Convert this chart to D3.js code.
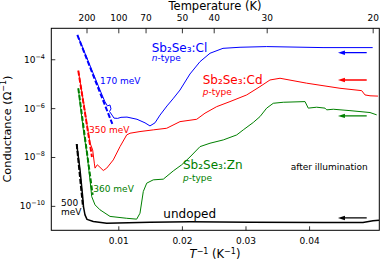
<!DOCTYPE html>
<html>
<head>
<meta charset="utf-8">
<script src="https://cdn.jsdelivr.net/npm/d3@7"></script>
<style>
  body { margin: 0; background: #fff; }
  text { font-family: "DejaVu Sans", sans-serif; }
</style>
</head>
<body>
<svg id="chart" width="381" height="262"></svg>
<script>
// conductance vs inverse temperature, four samples

// Sb2Se3:Cl (n-type)
var clInvT = [0.00362, 0.00461, 0.00586, 0.00712, 0.00791, 0.00830, 0.00869, 0.00885, 0.00862, 0.00901, 0.00932, 0.00990, 0.01042, 0.01137, 0.01294, 0.01420, 0.01498, 0.01577, 0.01656, 0.01766, 0.01860, 0.01970, 0.02127, 0.02285, 0.02442, 0.02646, 0.02914, 0.03333, 0.04219, 0.05000];
var clG = [9.4e-4, 2.19e-4, 3.5e-5, 5.5e-6, 1.8e-6, 1.23e-6, 1.35e-6, 9.3e-7, 7.3e-7, 5.2e-7, 3.9e-7, 3.8e-7, 4.2e-7, 4.3e-7, 3.5e-7, 2.5e-7, 1.87e-7, 2.5e-7, 5.2e-7, 1.23e-6, 2.4e-6, 5.5e-6, 2.5e-5, 8.0e-5, 1.76e-4, 2.8e-4, 3.1e-4, 3.3e-4, 3.0e-4, 3.0e-4];

// Sb2Se3:Cd (p-type)
var cdInvT = [0.00371, 0.00461, 0.00513, 0.00555, 0.00597, 0.00623, 0.00634, 0.00670, 0.00712, 0.00764, 0.00818, 0.00921, 0.01027, 0.01132, 0.01184, 0.01341, 0.01550, 0.01761, 0.01970, 0.02233, 0.02363, 0.02547, 0.02756, 0.03019, 0.03228, 0.03385, 0.03543, 0.03962, 0.04486, 0.04827, 0.04879, 0.04958, 0.05083];
var cdG = [3.4e-5, 1.35e-6, 1.75e-7, 3.8e-8, 1.95e-8, 5.6e-9, 3.5e-9, 4.8e-9, 3.8e-9, 2.8e-9, 3.5e-9, 7.6e-9, 2.66e-8, 8.0e-8, 9.4e-8, 1.1e-7, 1.29e-7, 1.5e-7, 2.8e-7, 3.5e-7, 6.2e-7, 1.15e-6, 1.85e-6, 3.47e-6, 7.6e-6, 1.42e-5, 1.67e-5, 1.05e-5, 6.5e-6, 5.2e-6, 3.47e-6, 3.2e-6, 3.1e-6];

// Sb2Se3:Zn (p-type)
var znInvT = [0.00371, 0.00450, 0.00513, 0.00555, 0.00582, 0.00634, 0.00712, 0.00870, 0.01132, 0.01289, 0.01341, 0.01393, 0.01447, 0.01550, 0.01708, 0.01865, 0.01997, 0.02127, 0.02285, 0.02442, 0.02651, 0.02862, 0.02965, 0.03123, 0.03228, 0.03333, 0.03437, 0.03594, 0.03936, 0.03987, 0.04119, 0.04250, 0.04277, 0.04381, 0.04643, 0.04958, 0.05063];
var znG = [6.5e-6, 1.29e-7, 1.05e-8, 1.16e-9, 2.4e-10, 1.1e-10, 6.9e-11, 3.7e-11, 3.1e-11, 2.86e-11, 5.0e-11, 3.85e-10, 8.5e-10, 1.16e-9, 1.24e-9, 2.7e-9, 4.8e-9, 1.0e-8, 2.66e-8, 3.66e-8, 5.0e-8, 8.0e-8, 1.29e-7, 2.6e-7, 4.5e-7, 1.0e-6, 1.58e-6, 1.74e-6, 1.85e-6, 1.0e-6, 1.09e-6, 1.0e-6, 8.5e-7, 9.0e-7, 7.9e-7, 6.6e-7, 5.3e-7];

// undoped
var unInvT = [0.00346, 0.00398, 0.00437, 0.00453, 0.00476, 0.00508, 0.00607, 0.00818, 0.01498, 0.02127, 0.03071, 0.04219, 0.04847, 0.05005, 0.05099];
var unG = [3.4e-8, 2.96e-9, 2.8e-10, 9.1e-11, 4.3e-11, 2.8e-11, 2.28e-11, 1.96e-11, 2.13e-11, 2.22e-11, 2.13e-11, 2.1e-11, 2.1e-11, 2.45e-11, 2.56e-11];

// activation fits (dashed), end points
var clFitInvT = [0.00356, 0.00906], clFitG = [9.9e-4, 2.26e-7];
var cdFitInvT = [0.00371, 0.00586], cdFitG = [3.4e-5, 1.0e-8];
var znFitInvT = [0.00371, 0.00597], znFitG = [6.5e-6, 2.8e-10];
var unFitInvT = [0.00346, 0.00445], unFitG = [3.4e-8, 9.1e-11];

// after-illumination arrows: level, from/to
var arrowG = [1.86e-4, 1.42e-5, 4.8e-7, 3.2e-11];
var arrowFrom = 0.04906, arrowTo = 0.04454;

var xTicks = [0.01, 0.02, 0.03, 0.04];
var tempTicks = [200, 100, 70, 50, 40, 30, 20];
var yTicks = [1e-4, 1e-6, 1e-8, 1e-10];

var colors = ['#0000ff', '#ff0000', '#008000', '#000000'];

var svg = d3.select('#chart');
var m = {l: 51.3, t: 28.3, r: 379.3, b: 230.3};

var x = d3.scaleLinear().domain([-0.000535, 0.05104]).range([m.l, m.r]);
var y = d3.scaleLog().domain([1.0e-11, 1.85e-3]).range([m.b, m.t]);

svg.append('defs').append('clipPath').attr('id', 'clip')
  .append('rect').attr('x', m.l).attr('y', m.t).attr('width', m.r - m.l).attr('height', m.b - m.t);

// axes
var axBottom = svg.append('g').attr('transform', 'translate(0,' + m.b + ')')
  .call(d3.axisBottom(x).tickValues(xTicks).tickSize(-4).tickPadding(7.3).tickFormat(d3.format('.2')));
var axTop = svg.append('g').attr('transform', 'translate(0,' + m.t + ')')
  .call(d3.axisTop(x).tickValues(tempTicks.map(function(t){ return 1 / t; })).tickSize(-5).tickPadding(7.3)
    .tickFormat(function(d){ return Math.round(1 / d); }));
var axLeft = svg.append('g').attr('transform', 'translate(' + m.l + ',0)')
  .call(d3.axisLeft(y).tickValues(yTicks).tickSize(-4).tickPadding(6.3));

[axBottom, axTop, axLeft].forEach(function(g){
  g.select('.domain').remove();
  g.selectAll('.tick line').attr('stroke', '#000').attr('stroke-width', 0.8);
  g.selectAll('.tick text').attr('fill', '#000').attr('font-size', '9px').attr('font-family', '"DejaVu Sans", sans-serif');
});

axLeft.selectAll('.tick text').each(function(d){
  var t = d3.select(this);
  t.text('');
  t.append('tspan').text('10');
  t.append('tspan').attr('dy', -4).attr('font-size', '6.5px').text('\u2212' + Math.round(-Math.log10(d)));
});

// frame
svg.append('rect').attr('x', m.l).attr('y', m.t).attr('width', m.r - m.l).attr('height', m.b - m.t)
  .attr('fill', 'none').attr('stroke', '#000').attr('stroke-width', 1);

// axis titles
svg.append('text').attr('x', 215).attr('y', 9.5).attr('text-anchor', 'middle')
  .attr('font-size', '11.5px').text('Temperature (K)');

var xt = svg.append('text').attr('x', 215).attr('y', 258).attr('text-anchor', 'middle').attr('font-size', '11.5px');
xt.append('tspan').attr('font-style', 'italic').text('T');
xt.append('tspan').attr('dy', -4.5).attr('font-size', '8px').text('\u22121');
xt.append('tspan').attr('dy', 4.5).text(' (K');
xt.append('tspan').attr('dy', -4.5).attr('font-size', '8px').text('\u22121');
xt.append('tspan').attr('dy', 4.5).text(')');

var yt = svg.append('text').attr('transform', 'translate(10.5,129) rotate(-90)').attr('text-anchor', 'middle').attr('font-size', '11.3px');
yt.append('tspan').text('Conductance (\u03a9');
yt.append('tspan').attr('dy', -4.5).attr('font-size', '8px').text('\u22121');
yt.append('tspan').attr('dy', 4.5).text(')');

// curves
var plot = svg.append('g').attr('clip-path', 'url(#clip)');
var line = d3.line().x(function(d){ return x(d[0]); }).y(function(d){ return y(d[1]); });

var curves = [[clInvT, clG], [cdInvT, cdG], [znInvT, znG], [unInvT, unG]];
var fits = [[clFitInvT, clFitG], [cdFitInvT, cdFitG], [znFitInvT, znFitG], [unFitInvT, unFitG]];

fits.forEach(function(f, i){
  plot.append('path').datum(d3.zip(f[0], f[1])).attr('d', line)
    .attr('fill', 'none').attr('stroke', colors[i]).attr('stroke-width', 2).attr('stroke-dasharray', '5,2');
});
curves.forEach(function(c, i){
  plot.append('path').datum(d3.zip(c[0], c[1])).attr('d', line)
    .attr('fill', 'none').attr('stroke', colors[i]).attr('stroke-width', i == 3 ? 1.5 : 1)
    .attr('stroke-linejoin', 'round');
});

// arrows
arrowG.forEach(function(g, i){
  var yy = y(g), x0 = x(arrowFrom), x1 = x(arrowTo);
  plot.append('line').attr('x1', x0).attr('x2', x1 + 5).attr('y1', yy).attr('y2', yy)
    .attr('stroke', colors[i]).attr('stroke-width', 1.3);
  plot.append('path').attr('d', 'M' + x1 + ',' + yy + 'l7,-2.2v4.4z').attr('fill', colors[i]);
});

// labels
function label(v, g, txt, col, size) {
  return svg.append('text').attr('x', x(v)).attr('y', y(g)).attr('fill', col)
    .attr('font-size', size + 'px').text(txt);
}
function typeLabel(v, g, letter, col) {
  var t = label(v, g, '', col, 9);
  t.append('tspan').attr('font-style', 'italic').text(letter);
  t.append('tspan').text('-type');
}

label(0.01525, 2.0e-4, 'Sb\u2082Se\u2083:Cl', colors[0], 12);
typeLabel(0.01525, 8.1e-5, 'n', colors[0]);
label(0.00712, 9.8e-6, '170 meV', colors[0], 9);

label(0.02327, 9.3e-6, 'Sb\u2082Se\u2083:Cd', colors[1], 12);
typeLabel(0.02327, 3.5e-6, 'p', colors[1]);
label(0.00539, 9.2e-8, '350 meV', colors[1], 9);

label(0.02017, 3.1e-9, 'Sb\u2082Se\u2083:Zn', colors[2], 12);
typeLabel(0.02017, 1.05e-9, 'p', colors[2]);
label(0.00607, 3.7e-10, '360 meV', colors[2], 9);

label(0.00099, 1.0e-10, '500', colors[3], 9);
label(0.00099, 4.3e-11, 'meV', colors[3], 9);
label(0.01708, 3.2e-11, 'undoped', colors[3], 12);
label(0.03711, 2.95e-9, 'after illumination', '#000', 9);
</script>
</body>
</html>
